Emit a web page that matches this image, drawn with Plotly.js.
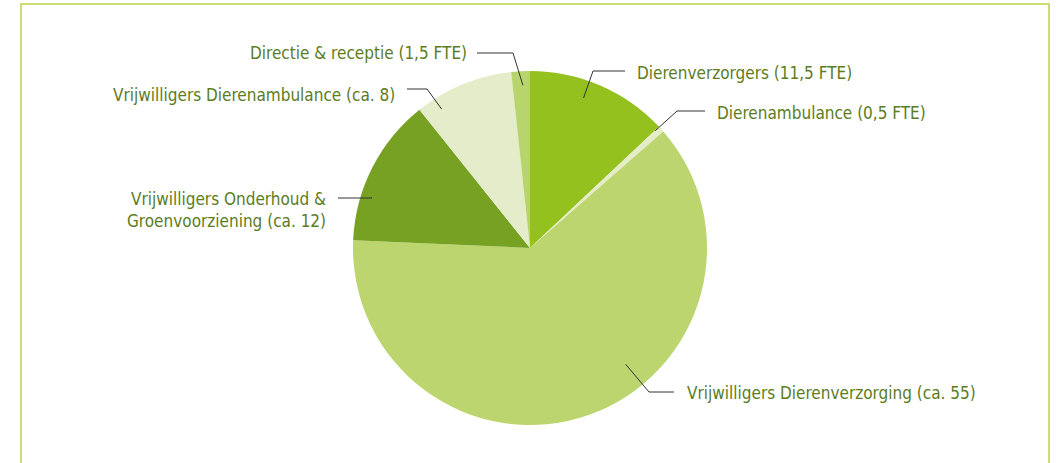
<!DOCTYPE html>
<html>
<head>
<meta charset="utf-8">
<script src="https://cdn.plot.ly/plotly-3.0.1.min.js"></script>
<style>
  html, body { margin: 0; padding: 0; background: #fff; }
  #chart { width: 1057px; height: 463px; }
</style>
</head>
<body>
<div id="chart"></div>
<script>
'use strict';

const W = 1057;
const H = 463;

// slices, clockwise from 12 o'clock
const categories = [
  'Dierenverzorgers (11,5 FTE)',
  'Dierenambulance (0,5 FTE)',
  'Vrijwilligers Dierenverzorging (ca. 55)',
  'Vrijwilligers Onderhoud &<br>Groenvoorziening (ca. 12)',
  'Vrijwilligers Dierenambulance (ca. 8)',
  'Directie & receptie (1,5 FTE)'
];
const values = [11.5, 0.5, 55, 12, 8, 1.5];
const colors = ['#95c11f', '#e4ecc8', '#bcd56f', '#76a122', '#e4ecc9', '#b8d46c'];

// leader lines: where they start inside the slice (fraction of its sweep, fraction of radius),
// the elbow and the end of the horizontal part in pixels, and where the text sits
const anchorFrac = [[0.42, 0.9], [0.05, 0.97], [0.41, 0.85], [0.31, 0.94], [0.19, 0.93], [0.59, 0.92]];
const elbows = [[593, 71], [677, 111], [649, 392], [372, 198], [427, 89], [513, 53]];
const lineEnds = [[625, 71], [705, 111], [674, 392], [338, 198], [407, 89], [477, 53]];
const labelPos = [[635, 73, 'left'], [715, 113, 'left'], [685, 393, 'left'],
  [328, 210, 'right'], [397, 95, 'right'], [469, 53, 'right']];

const cx = 530;
const cy = 248;
const radius = 177;

const px = x => x / W;
const py = y => 1 - y / H;

function main() {
  const total = values.reduce((a, b) => a + b, 0);
  const shapes = [];
  const annotations = [];
  let acc = 0;

  values.forEach((v, i) => {
    const [f, rf] = anchorFrac[i];
    const ang = (acc + v * f) / total * 2 * Math.PI;
    acc += v;
    const sx = cx + radius * rf * Math.sin(ang);
    const sy = cy - radius * rf * Math.cos(ang);
    shapes.push({
      type: 'path',
      xref: 'paper',
      yref: 'paper',
      path: `M ${px(sx)} ${py(sy)} L ${px(elbows[i][0])} ${py(elbows[i][1])} L ${px(lineEnds[i][0])} ${py(lineEnds[i][1])}`,
      line: {color: '#333333', width: 1}
    });
    const [lx, ly, side] = labelPos[i];
    annotations.push({
      xref: 'paper',
      yref: 'paper',
      x: px(lx),
      y: py(ly),
      xanchor: side,
      yanchor: 'middle',
      align: side,
      text: categories[i],
      showarrow: false,
      font: {family: '"Liberation Sans Narrow", "DejaVu Sans Condensed", sans-serif', size: 17, color: '#5c7c1e'}
    });
  });

  // frame around the chart
  shapes.push({
    type: 'rect',
    xref: 'paper',
    yref: 'paper',
    x0: px(21),
    x1: px(1049),
    y0: py(480),
    y1: py(4),
    line: {color: '#c9df72', width: 2}
  });

  const trace = {
    type: 'pie',
    labels: categories,
    values: values,
    sort: false,
    direction: 'clockwise',
    rotation: 0,
    textinfo: 'none',
    hoverinfo: 'none',
    marker: {colors: colors, line: {width: 0}},
    domain: {
      x: [px(cx - radius), px(cx + radius)],
      y: [py(cy + radius), py(cy - radius)]
    },
    showlegend: false
  };

  const layout = {
    width: W,
    height: H,
    margin: {l: 0, r: 0, t: 0, b: 0},
    paper_bgcolor: '#ffffff',
    showlegend: false,
    shapes: shapes,
    annotations: annotations
  };

  Plotly.newPlot('chart', [trace], layout, {staticPlot: true});
}

main();
</script>
</body>
</html>
